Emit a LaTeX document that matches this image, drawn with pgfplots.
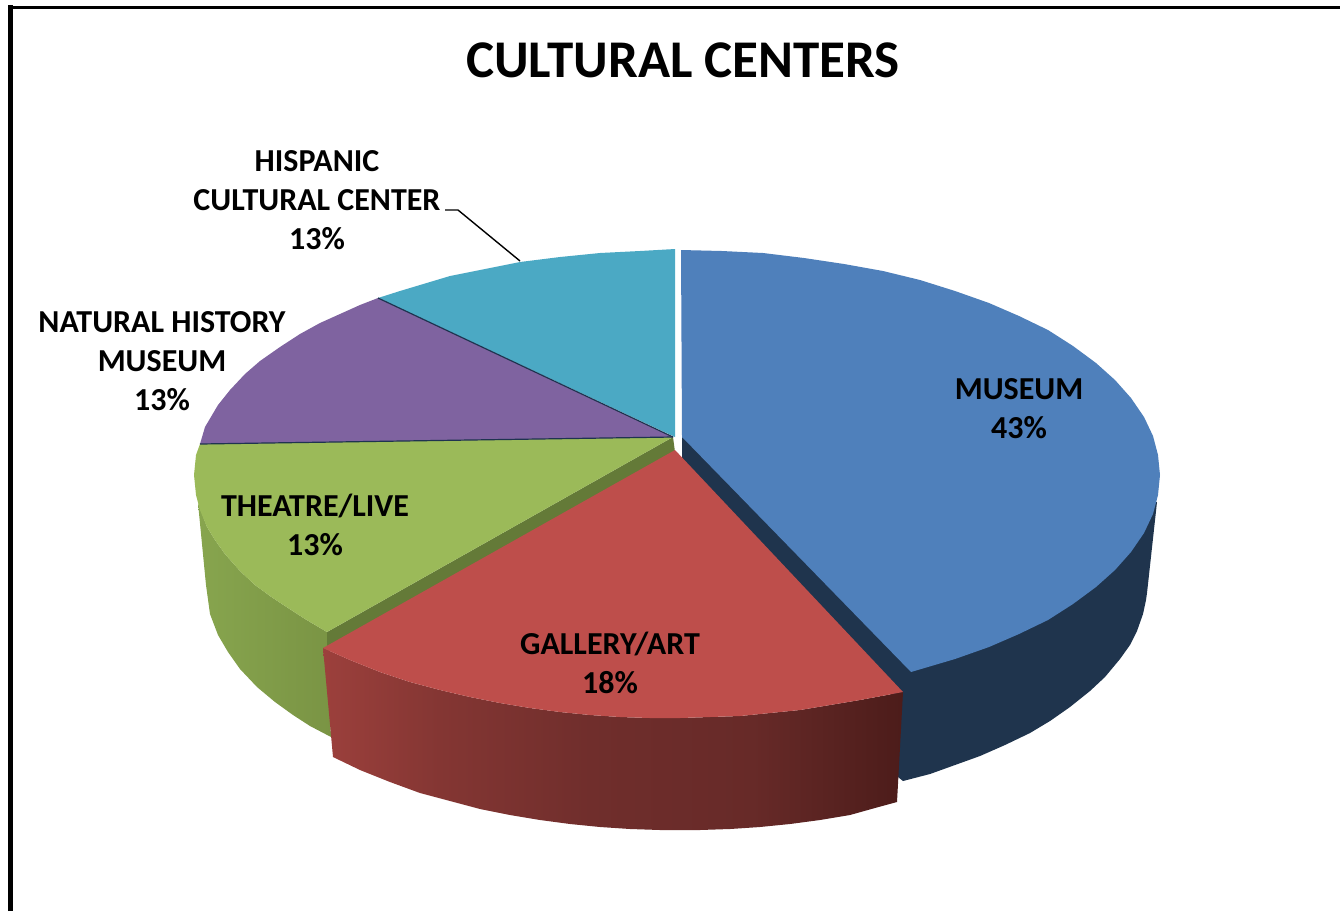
\documentclass[border=0pt]{standalone}
\usepackage{pgfplots}
\pgfplotsset{compat=1.18}
\usepackage{fontspec}
\setmainfont{Carlito}
\definecolor{cblue}{HTML}{4F80BB}
\definecolor{cbluedk}{HTML}{1F344D}
\definecolor{cred}{HTML}{BE4E4B}
\definecolor{cgreen}{HTML}{9BBA59}
\definecolor{cgreendk}{HTML}{647A38}
\definecolor{cpurple}{HTML}{7F63A0}
\definecolor{cteal}{HTML}{4BA9C4}
\definecolor{cline}{HTML}{1F3350}
\definecolor{HTMLa}{HTML}{9C403C}
\definecolor{HTMLb}{HTML}{843633}
\definecolor{HTMLc}{HTML}{702E2C}
\definecolor{HTMLd}{HTML}{672A28}
\definecolor{HTMLe}{HTML}{4C1C1A}
\definecolor{HTMLf}{HTML}{87A54E}
\definecolor{HTMLg}{HTML}{7A9444}
\pgfdeclarehorizontalshading{redside}{100bp}{color(0bp)=(HTMLa);color(25bp)=(HTMLa);color(35bp)=(HTMLb);color(48bp)=(HTMLc);color(62bp)=(HTMLd);color(75bp)=(HTMLe);color(100bp)=(HTMLe)}
\pgfdeclarehorizontalshading{greenside}{100bp}{color(0bp)=(HTMLf);color(25bp)=(HTMLf);color(75bp)=(HTMLg);color(100bp)=(HTMLg)}
\tikzset{lbl/.style={font=\fontsize{32}{39}\selectfont\bfseries, align=center, text=black, inner sep=0pt}}
\begin{document}
\begin{tikzpicture}
\path[use as bounding box] (0,0) rectangle (1340pt,911pt);
\begin{axis}[
  at={(0,0)}, anchor=south west,
  scale only axis, width=1340pt, height=911pt,
  xmin=0, xmax=1340, ymin=0, ymax=911, y dir=reverse,
  axis lines=none, no markers, clip=true,
  every axis plot/.append style={forget plot},
]
% frame
\addplot[black, line width=5pt] coordinates {(10.5,911) (10.5,5)};
\addplot[black, line width=3pt] coordinates {(8,7) (1340,7)};
% blue side
\addplot[draw=none, fill=cbluedk] coordinates {(682,437) (682,459) (890,690) (898,777) (903,781) (930,774) (955,765) (980,756) (1005,745) (1030,733) (1050,721) (1070,707) (1090,691) (1105,677) (1120,659) (1130,645) (1137,631) (1143,614) (1146,600) (1147,593) (1157,502) (1100,500) (800,500)} --cycle;
% blue top
\addplot[draw=none, fill=cblue] coordinates {(682,437) (681,250) (722,251) (763,253) (804,258) (844,264) (883,271) (920,280) (955,291) (989,303) (1019,316) (1048,330) (1073,346) (1096,363) (1115,380) (1131,398) (1144,417) (1153,436) (1158,455) (1160,475) (1158,495) (1153,514) (1144,533) (1131,552) (1115,570) (1096,587) (1073,604) (1048,620) (1019,634) (989,647) (955,659) (911,672)} --cycle;
% green side
\addplot[draw=none, shade, shading=greenside] coordinates {(198,503) (207,527) (215,540) (225,554) (240,571) (255,585) (270,596) (285,606) (305,619) (327,632) (327,650) (331,737) (310,726) (293,715) (275,702) (257,687) (240,669) (228,652) (218,635) (210,614) (206,585)} --cycle;
% green inner face
\addplot[draw=none, fill=cgreendk] coordinates {(673,437) (327,632) (327,652) (675,452)} --cycle;
% green top
\addplot[draw=none, fill=cgreen] coordinates {(673,437) (200,444) (196,455) (194,475) (196,495) (200,510) (207,527) (215,540) (225,554) (240,571) (255,585) (270,596) (285,606) (305,619) (327,632)} --cycle;
% purple top
\addplot[draw=none, fill=cpurple] coordinates {(673,437) (378,298) (360,305) (340,314) (320,323) (300,334) (280,347) (260,361) (245,374) (230,390) (218,405) (205,427) (200,444)} --cycle;
% teal top
\addplot[draw=none, fill=cteal] coordinates {(675,437) (675,249) (640,251) (600,253) (560,257) (520,262) (485,269) (450,276) (430,282) (400,291) (378,298)} --cycle;
% separators
\addplot[cline, line width=1.2pt] coordinates {(378,298) (673,437)};
\addplot[cline, line width=1.2pt] coordinates {(200,444) (673,437)};
% red side
\addplot[draw=none, shade, shading=redside] coordinates {(323,648) (350,660) (380,672) (410,682) (440,690) (470,697) (500,703) (530,708) (560,712) (590,715) (620,717) (650,718) (680,718) (710,717) (740,716) (770,713) (800,710) (830,705) (860,700) (903,692) (897,802) (875,808) (850,815) (820,820) (790,824) (760,827) (730,829) (700,830) (660,830) (630,829) (600,827) (570,824) (540,820) (510,815) (480,809) (450,801) (420,793) (390,782) (360,770) (333,757)} --cycle;
% red top
\addplot[draw=none, fill=cred] coordinates {(675,450) (903,692) (860,700) (830,705) (800,710) (770,713) (740,716) (710,717) (680,718) (650,718) (620,717) (590,715) (560,712) (530,708) (500,703) (470,697) (440,690) (410,682) (380,672) (350,660) (323,648)} --cycle;
% leader line
\addplot[black, line width=1.4pt] coordinates {(445,210) (458,210) (520,261)};
% labels
\node[lbl, font=\fontsize{53}{60}\selectfont\bfseries] at (axis cs:683,60) {CULTURAL CENTERS};
\node[lbl] at (axis cs:1019,409) {MUSEUM\\43\%};
\node[lbl] at (axis cs:610,663) {GALLERY/ART\\18\%};
\node[lbl] at (axis cs:315,525) {THEATRE/LIVE\\13\%};
\node[lbl] at (axis cs:162,361.5) {NATURAL HISTORY\\MUSEUM\\13\%};
\node[lbl] at (axis cs:317,200.5) {HISPANIC\\CULTURAL CENTER\\13\%};
\end{axis}
\end{tikzpicture}
\end{document}
